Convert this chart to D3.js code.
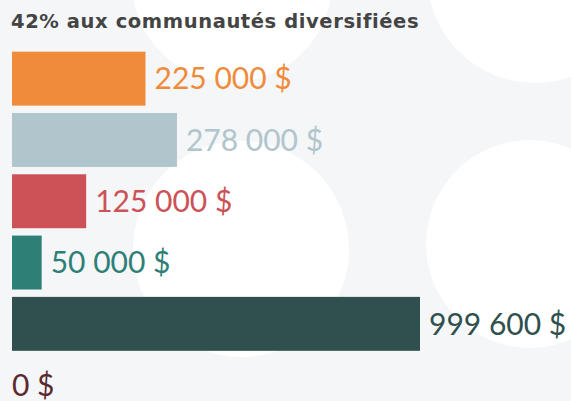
<!DOCTYPE html>
<html>
<head>
<meta charset="utf-8">
<script src="https://cdn.jsdelivr.net/npm/d3@7"></script>
<style>
  html, body { margin: 0; padding: 0; background: #f5f6f8; }
  svg { display: block; }
</style>
</head>
<body>
<div id="chart"></div>
<script>
// Data
const categories = ['a', 'b', 'c', 'd', 'e', 'f'];
const values = [225000, 278000, 125000, 50000, 999600, 0];
const labels = ['225 000 $', '278 000 $', '125 000 $', '50 000 $', '999 600 $', '0 $'];
const colors = ['#ef8b3a', '#b0c5cc', '#cc5257', '#2e8077', '#2f504e', '#5b2a2e'];
const title = '42% aux communautés diversifiées';

const width = 571, height = 401;

const svg = d3.select('#chart').append('svg')
  .attr('width', width)
  .attr('height', height);

// Decorative background (white shapes on light grey)
const deco = [
  { cx: 535, cy: -25, r: 108 },
  { cx: 232, cy: -18, r: 100 },
  { cx: 241, cy: 249, r: 108 },
  { cx: 530, cy: 244, r: 104 }
];
svg.append('rect').attr('width', width).attr('height', height).attr('fill', '#f5f6f8');
svg.append('g').selectAll('circle')
  .data(deco)
  .enter().append('circle')
  .attr('cx', d => d.cx)
  .attr('cy', d => d.cy)
  .attr('r', d => d.r)
  .attr('fill', '#ffffff');

// Title
svg.append('text')
  .attr('x', 11)
  .attr('y', 28.3)
  .attr('font-family', 'DejaVu Sans')
  .attr('font-weight', 'bold')
  .attr('font-size', 19.5)
  .attr('letter-spacing', 0.6)
  .attr('fill', '#444444')
  .text(title);

// Scales
const x = d3.scaleLinear()
  .domain([0, 300000, 999600])
  .range([0, 178, 408]);

const y = d3.scaleBand()
  .domain(categories)
  .range([48, 48 + 6 * 61.3])
  .paddingInner(0.12)
  .paddingOuter(0.06);

const left = 12;

const rows = svg.append('g')
  .selectAll('g')
  .data(categories)
  .enter().append('g');

rows.append('rect')
  .attr('x', left)
  .attr('y', d => y(d))
  .attr('width', (d, i) => x(values[i]))
  .attr('height', y.bandwidth())
  .attr('fill', (d, i) => colors[i]);

rows.append('text')
  .attr('x', (d, i) => left + (values[i] > 0 ? x(values[i]) + 9 : 0))
  .attr('y', d => y(d) + y.bandwidth() / 2 + 10.8)
  .attr('font-family', 'Lato')
  .attr('font-size', 30)
  .attr('fill', (d, i) => colors[i])
  .text((d, i) => labels[i]);
</script>
</body>
</html>
